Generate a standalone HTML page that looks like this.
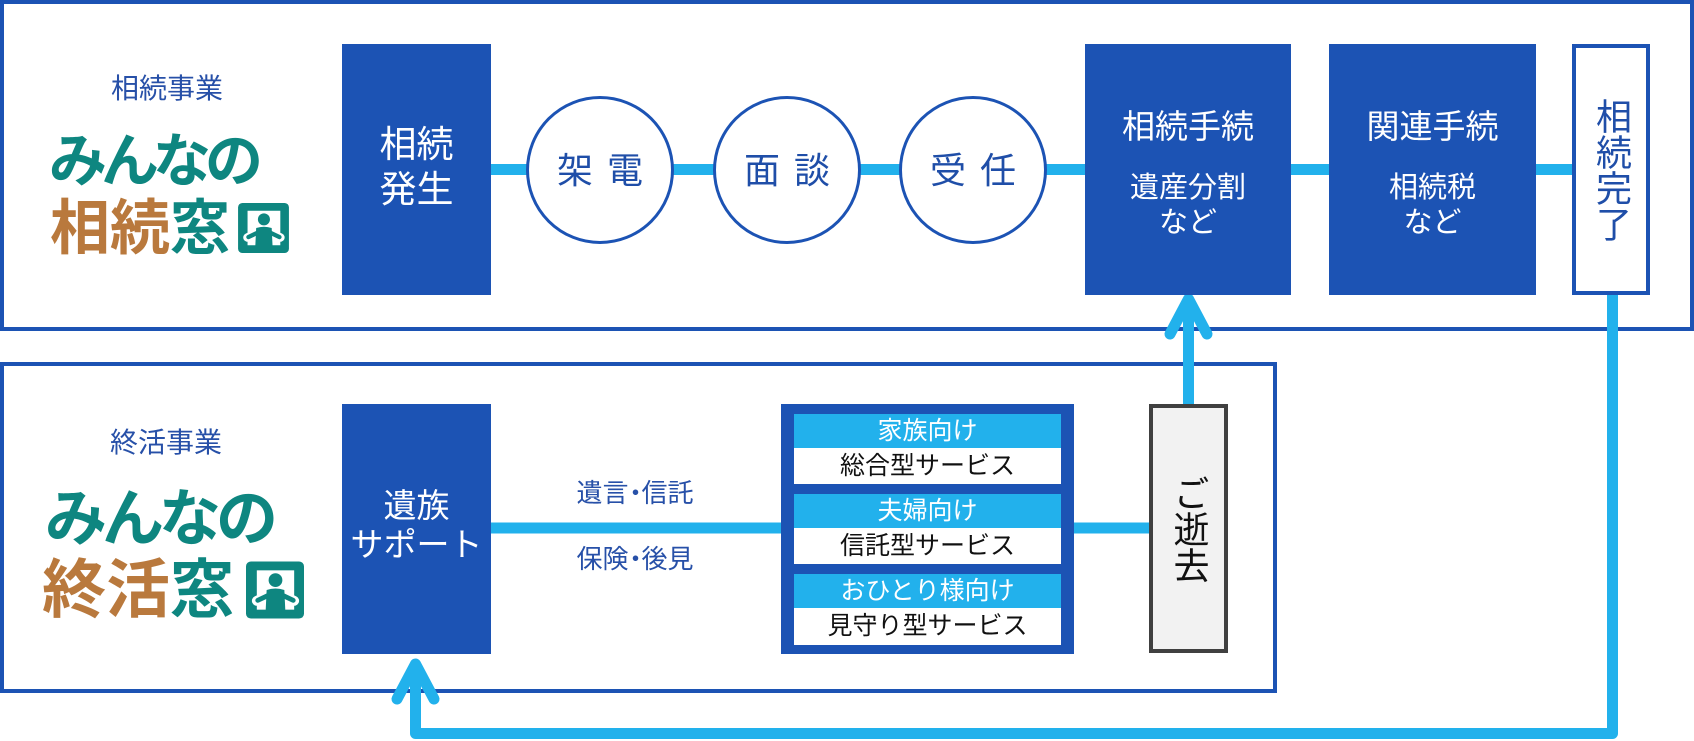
<!DOCTYPE html>
<html>
<head>
<meta charset="utf-8">
<style>
html,body{margin:0;padding:0;}
body{width:1694px;height:741px;position:relative;overflow:hidden;background:#fff;font-family:"Liberation Sans","Noto Sans CJK JP",sans-serif;}
.abs{position:absolute;}
.panel{position:absolute;box-sizing:border-box;border:4px solid #1c53b4;background:#fff;}
.box{position:absolute;background:#1c53b4;color:#fff;box-sizing:border-box;}
.flexc{display:flex;align-items:center;justify-content:center;text-align:center;}
.circle{position:absolute;width:148px;height:148px;border-radius:50%;box-sizing:border-box;border:3.5px solid #1c53b4;background:#fff;color:#1f4ea8;font-size:36px;line-height:36px;display:flex;align-items:center;justify-content:center;}
.circle span{display:inline-block;margin-top:3px;}
.lbl{position:absolute;text-align:center;color:#2750a8;white-space:nowrap;}
.dot{display:inline-block;margin-left:-6px;margin-right:-7px;}
.logo{position:absolute;white-space:nowrap;font-weight:700;}
.teal{color:#0e8680;}
.brown{color:#b9793d;}
.row{position:absolute;left:13px;width:267px;display:flex;align-items:center;justify-content:center;font-size:25px;line-height:25px;white-space:nowrap;}
.hd{background:#22b1ec;color:#fff;}
.bd{background:#fff;color:#111;}
.vert{writing-mode:vertical-rl;}
</style>
</head>
<body>

<!-- panels -->
<div class="panel" style="left:0;top:0;width:1694px;height:331px;"></div>
<div class="panel" style="left:0;top:362px;width:1277px;height:331px;"></div>

<!-- connectors -->
<svg class="abs" style="left:0;top:0;" width="1694" height="741" viewBox="0 0 1694 741">
  <g fill="none" stroke="#22b1ec" stroke-width="11" stroke-linecap="round" stroke-linejoin="round">
    <line x1="491" y1="169.5" x2="1572" y2="169.5" stroke-linecap="butt"/>
    <line x1="491" y1="528" x2="1149" y2="528" stroke-linecap="butt"/>
    <path d="M1188.5 404 V300" stroke-linecap="butt"/>
    <path d="M1170 334 L1188.5 299 L1207 334"/>
    <path d="M1612.5 295 V733.5 H415.5 V665" stroke-linecap="butt"/>
    <path d="M397 699 L415.5 664 L434 699"/>
  </g>
</svg>

<!-- top labels & logo -->
<div class="lbl" style="left:67px;top:75px;width:200px;font-size:28px;line-height:28px;">相続事業</div>
<div class="logo teal" style="left:49px;top:133px;font-size:58px;line-height:58px;letter-spacing:-6px;">みんなの</div>
<div class="logo" style="left:50px;top:199px;font-size:60px;line-height:60px;"><span class="brown">相続</span><span class="teal">窓</span></div>
<svg class="abs" style="left:238px;top:203px;" width="51" height="50" viewBox="0 0 59 58">
  <rect x="0" y="0" width="59" height="58" rx="5" fill="#0e8680"/>
  <rect x="11" y="9" width="38" height="40" fill="#fff"/>
  <g stroke-linecap="round" fill="none">
    <path d="M30 31 L11 40 M30 31 L49 40" stroke="#fff" stroke-width="10"/>
    <path d="M30 31 L12 39.5 M30 31 L48 39.5" stroke="#0e8680" stroke-width="5"/>
  </g>
  <circle cx="30" cy="19" r="7" fill="#0e8680"/>
  <path d="M21 29 Q30 26 39 29 L40 50 L20 50 Z" fill="#0e8680"/>
</svg>

<!-- bottom labels & logo -->
<div class="lbl" style="left:66px;top:429px;width:200px;font-size:28px;line-height:28px;">終活事業</div>
<div class="logo teal" style="left:45px;top:489px;font-size:62px;line-height:62px;letter-spacing:-5px;">みんなの</div>
<div class="logo" style="left:42px;top:558px;font-size:64px;line-height:64px;"><span class="brown">終活</span><span class="teal">窓</span></div>
<svg class="abs" style="left:246px;top:561px;" width="58" height="58" viewBox="0 0 59 58">
  <rect x="0" y="0" width="59" height="58" rx="5" fill="#0e8680"/>
  <rect x="11" y="9" width="38" height="40" fill="#fff"/>
  <g stroke-linecap="round" fill="none">
    <path d="M30 31 L11 40 M30 31 L49 40" stroke="#fff" stroke-width="10"/>
    <path d="M30 31 L12 39.5 M30 31 L48 39.5" stroke="#0e8680" stroke-width="5"/>
  </g>
  <circle cx="30" cy="19" r="7" fill="#0e8680"/>
  <path d="M21 29 Q30 26 39 29 L40 50 L20 50 Z" fill="#0e8680"/>
</svg>

<!-- top row -->
<div class="box flexc" style="left:342px;top:44px;width:149px;height:251px;font-size:37px;line-height:45px;padding-bottom:5px;">相続<br>発生</div>

<div class="circle" style="left:526px;top:95.5px;"><span>架</span><span style="margin-left:14px;">電</span></div>
<div class="circle" style="left:713px;top:95.5px;"><span>面</span><span style="margin-left:14px;">談</span></div>
<div class="circle" style="left:899px;top:95.5px;"><span>受</span><span style="margin-left:14px;">任</span></div>

<div class="box" style="left:1085px;top:44px;width:206px;height:251px;">
  <div class="abs" style="left:0;width:206px;top:66px;text-align:center;font-size:33px;line-height:33px;">相続手続</div>
  <div class="abs" style="left:0;width:206px;top:127px;text-align:center;font-size:29px;line-height:35px;">遺産分割<br>など</div>
</div>
<div class="box" style="left:1329px;top:44px;width:207px;height:251px;">
  <div class="abs" style="left:0;width:207px;top:66px;text-align:center;font-size:33px;line-height:33px;">関連手続</div>
  <div class="abs" style="left:0;width:207px;top:127px;text-align:center;font-size:29px;line-height:35px;">相続税<br>など</div>
</div>
<div class="abs flexc" style="left:1572px;top:44px;width:78px;height:251px;box-sizing:border-box;border:4px solid #1c53b4;background:#fff;color:#1f4ea8;">
  <div class="vert" style="font-size:36px;line-height:36px;">相続完了</div>
</div>

<!-- bottom row -->
<div class="box flexc" style="left:342px;top:404px;width:149px;height:250px;font-size:33px;line-height:39px;padding-bottom:8px;white-space:nowrap;">遺族<br>サポート</div>

<div class="lbl" style="left:535px;top:480px;width:200px;font-size:26px;line-height:26px;">遺言<span class="dot">・</span>信託</div>
<div class="lbl" style="left:535px;top:546px;width:200px;font-size:26px;line-height:26px;">保険<span class="dot">・</span>後見</div>

<div class="box" style="left:781px;top:404px;width:293px;height:250px;">
  <div class="row hd" style="top:10px;height:34px;">家族向け</div>
  <div class="row bd" style="top:44px;height:36px;">総合型サービス</div>
  <div class="row hd" style="top:90px;height:34px;">夫婦向け</div>
  <div class="row bd" style="top:124px;height:36px;">信託型サービス</div>
  <div class="row hd" style="top:170px;height:34px;">おひとり様向け</div>
  <div class="row bd" style="top:204px;height:37px;">見守り型サービス</div>
</div>

<div class="abs flexc" style="left:1149px;top:404px;width:79px;height:249px;box-sizing:border-box;border:4px solid #404040;background:#f2f2f2;color:#111;">
  <div class="vert" style="font-size:36px;line-height:36px;">ご逝去</div>
</div>

</body>
</html>
